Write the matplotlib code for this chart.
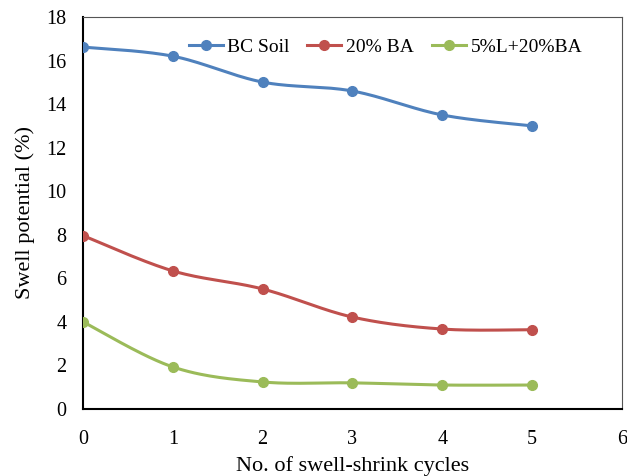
import numpy as np
import matplotlib
matplotlib.use("Agg")
import matplotlib.pyplot as plt

cycles = [0, 1, 2, 3, 4, 5]
bc_soil = [16.62, 16.2, 15.01, 14.6, 13.5, 13.0]
ba_20 = [7.96, 6.34, 5.51, 4.22, 3.67, 3.64]
lime_ba = [4.0, 1.93, 1.24, 1.2, 1.1, 1.1]

labels = ["BC Soil", "20% BA", "5%L+20%BA"]
colors = ["#4F81BD", "#C0504D", "#9BBB59"]


def smooth(x, y, n=30):
    # Catmull-Rom style bezier like Excel smoothed lines
    x = np.asarray(x, float)
    y = np.asarray(y, float)
    px = np.concatenate([[x[0]], x, [x[-1]]])
    py = np.concatenate([[y[0]], y, [y[-1]]])
    xs, ys = [], []
    t = np.linspace(0, 1, n)
    for i in range(1, len(px) - 2):
        p0 = np.array([px[i], py[i]])
        p3 = np.array([px[i + 1], py[i + 1]])
        c1 = p0 + (np.array([px[i + 1], py[i + 1]]) - np.array([px[i - 1], py[i - 1]])) / 6
        c2 = p3 - (np.array([px[i + 2], py[i + 2]]) - np.array([px[i], py[i]])) / 6
        b = ((1 - t) ** 3)[:, None] * p0 + (3 * (1 - t) ** 2 * t)[:, None] * c1 \
            + (3 * (1 - t) * t ** 2)[:, None] * c2 + (t ** 3)[:, None] * p3
        xs.extend(b[:, 0])
        ys.extend(b[:, 1])
    return xs, ys


plt.rcParams['font.family'] = ['Liberation Serif', 'DejaVu Serif']

fig = plt.figure(figsize=(6.27, 4.76), dpi=100)
ax = fig.add_axes([0.1324, 0.1408, 0.8596, 0.8235])

for vals, lab, col in zip([bc_soil, ba_20, lime_ba], labels, colors):
    sx, sy = smooth(cycles, vals)
    ax.plot(sx, sy, color=col, lw=2.2, zorder=2)
    ax.plot(cycles, vals, 'o', color=col, ms=7, zorder=3)
    ax.plot([], [], '-o', color=col, lw=2.2, ms=7, label=lab)

ax.set_xlim(0, 6)
ax.set_ylim(0, 18)
ax.set_xticks(range(0, 7))
ax.set_yticks(range(0, 19, 2))
ax.tick_params(length=0, labelsize=14.5)
ax.tick_params(axis='x', pad=15)
ax.tick_params(axis='y', pad=12)
for s in ['top', 'right']:
    ax.spines[s].set_color('#555555')
    ax.spines[s].set_linewidth(0.8)
for s in ['left', 'bottom']:
    ax.spines[s].set_color('black')
    ax.spines[s].set_linewidth(1.5)

ax.set_xlabel("No. of swell-shrink cycles", fontsize=16, labelpad=5)
ax.set_ylabel("Swell potential (%)", fontsize=16, labelpad=8)

ax.legend(loc='upper center', bbox_to_anchor=(0.561, 0.99), ncol=3, frameon=False,
          fontsize=14, handlelength=1.75, handletextpad=0.25, columnspacing=0.9)

fig.savefig("out.png", dpi=100)
